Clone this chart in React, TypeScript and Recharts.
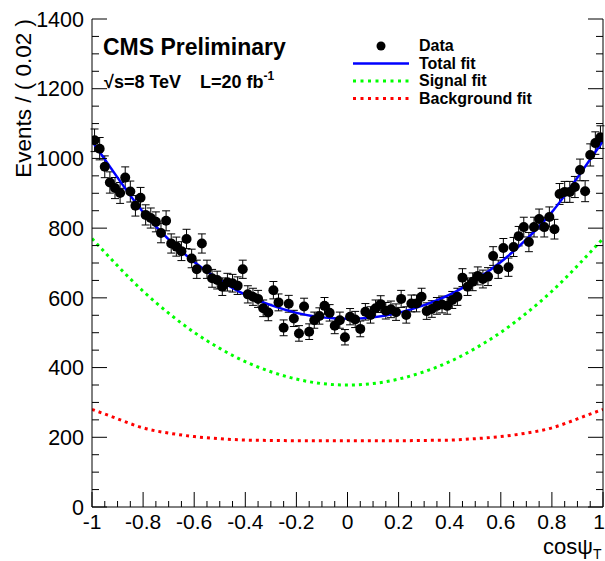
import React from "react"
import { ComposedChart, Scatter, Line, XAxis, YAxis, ErrorBar } from "recharts"

const FONT = "'Liberation Sans', Arial, Helvetica, sans-serif"

// events per bin, 100 bins of width 0.02 in cos(psi_T) from -1 to 1
const counts = [
  1052, 1028, 976, 931, 915, 901, 945, 905, 864, 887,
  838, 829, 818, 786, 821, 756, 747, 734, 769, 713,
  682, 756, 682, 656, 651, 632, 645, 642, 635, 682,
  610, 603, 597, 570, 558, 622, 587, 514, 583, 541,
  498, 575, 503, 536, 548, 577, 557, 520, 536, 487,
  546, 538, 511, 560, 551, 570, 582, 563, 567, 559,
  597, 551, 584, 584, 603, 562, 568, 577, 581, 577,
  594, 603, 658, 632, 646, 663, 654, 661, 720, 682,
  743, 688, 746, 777, 803, 760, 803, 826, 803, 832,
  797, 898, 904, 904, 918, 967, 906, 1010, 1044, 1061,
]

// fit curves sampled every 0.1
const fitX = [-1, -0.9, -0.8, -0.7, -0.6, -0.5, -0.4, -0.3, -0.2, -0.1, 0, 0.1, 0.2, 0.3, 0.4, 0.5, 0.6, 0.7, 0.8, 0.9, 1]
const totalFit = [1050, 945, 846, 768, 703, 651, 609, 579, 557, 544, 540, 544, 557, 579, 609, 651, 703, 768, 846, 945, 1050]
const signalFit = [770, 692, 619, 556, 501, 455, 417, 388, 367, 354, 350, 354, 367, 388, 417, 455, 501, 556, 619, 692, 770]
const backgroundFit = [280, 253, 227, 212, 202, 196, 192, 191, 190, 190, 190, 190, 190, 191, 192, 196, 202, 212, 227, 253, 280]

const legendItems = [
  { label: "Data", kind: "dot", color: "#000000" },
  { label: "Total fit", kind: "solid", color: "#0000ff" },
  { label: "Signal fit", kind: "dotted", color: "#00ff00" },
  { label: "Background fit", kind: "dotted", color: "#ff0000" },
]

const points = counts.map((c, i) => ({
  x: -1 + 0.02 * (i + 0.5),
  count: c,
  err: Math.sqrt(c),
}))

const fitRows = fitX.map((x, i) => ({
  x,
  total: totalFit[i],
  signal: signalFit[i],
  background: backgroundFit[i],
}))

const xTicks = Array.from({ length: 41 }, (_, i) => Math.round((-1 + i * 0.05) * 100) / 100)
const yTicks = Array.from({ length: 29 }, (_, i) => i * 50)

const isMajorX = (v: number) => Math.abs(v * 5 - Math.round(v * 5)) < 1e-6
const isMajorY = (v: number) => v % 200 === 0

function BottomTick({ x, y, payload }: any) {
  const major = isMajorX(payload.value)
  // the last label sits on the frame edge, nudge it inside the page
  const lx = payload.value >= 1 ? x - 4 : x
  return (
    <g>
      <line x1={x} x2={x} y1={y} y2={y - (major ? 15 : 6)} stroke="#000" />
      {major && (
        <text x={lx} y={y + 22} textAnchor="middle" fontSize={21} fontFamily={FONT} fill="#000">
          {String(Math.round(payload.value * 10) / 10)}
        </text>
      )}
    </g>
  )
}

function TopTick({ x, y, payload }: any) {
  const major = isMajorX(payload.value)
  return <line x1={x} x2={x} y1={y} y2={y + (major ? 15 : 6)} stroke="#000" />
}

function LeftTick({ x, y, payload }: any) {
  const major = isMajorY(payload.value)
  return (
    <g>
      <line x1={x} x2={x + (major ? 15 : 7)} y1={y} y2={y} stroke="#000" />
      {major && (
        <text x={x - 8} y={y} dy="0.36em" textAnchor="end" fontSize={21.5} fontFamily={FONT} fill="#000">
          {payload.value}
        </text>
      )}
    </g>
  )
}

function RightTick({ x, y, payload }: any) {
  const major = isMajorY(payload.value)
  return <line x1={x} x2={x - (major ? 15 : 7)} y1={y} y2={y} stroke="#000" />
}

const DataDot = (props: any) => <circle cx={props.cx} cy={props.cy} r={5} fill="#000" />

export default function App() {
  return (
    <div style={{ position: "absolute", left: 0, top: 0, width: 605, height: 561, background: "#fff" }}>
      <ComposedChart width={605} height={561} margin={{ top: 19, right: 1, bottom: 0, left: 0 }}>
        <XAxis
          xAxisId="main"
          dataKey="x"
          type="number"
          domain={[-1, 1]}
          ticks={xTicks}
          interval={0}
          height={54}
          tickLine={false}
          tickSize={0}
          tickMargin={0}
          tick={<BottomTick />}
          axisLine={{ stroke: "#000" }}
          allowDataOverflow
        />
        <XAxis
          xAxisId="top"
          orientation="top"
          dataKey="x"
          type="number"
          domain={[-1, 1]}
          ticks={xTicks}
          interval={0}
          height={0}
          tickLine={false}
          tickSize={0}
          tickMargin={0}
          tick={<TopTick />}
          axisLine={{ stroke: "#000" }}
          allowDataOverflow
        />
        <YAxis
          yAxisId="main"
          type="number"
          domain={[0, 1400]}
          ticks={yTicks}
          interval={0}
          width={92}
          tickLine={false}
          tickSize={0}
          tickMargin={0}
          tick={<LeftTick />}
          axisLine={{ stroke: "#000" }}
          allowDataOverflow
        />
        <YAxis
          yAxisId="right"
          orientation="right"
          type="number"
          domain={[0, 1400]}
          ticks={yTicks}
          interval={0}
          width={1}
          tickLine={false}
          tickSize={0}
          tickMargin={0}
          tick={<RightTick />}
          axisLine={{ stroke: "#000" }}
          allowDataOverflow
        />
        <Scatter
          xAxisId="main"
          yAxisId="main"
          data={points}
          dataKey="count"
          shape={DataDot}
          isAnimationActive={false}
        >
          <ErrorBar dataKey="err" direction="y" width={4} stroke="#000" strokeWidth={1} />
        </Scatter>
        <Line
          xAxisId="main"
          yAxisId="main"
          data={fitRows}
          dataKey="background"
          type="natural"
          stroke="#ff0000"
          strokeWidth={3}
          strokeDasharray="3 4"
          dot={false}
          activeDot={false}
          isAnimationActive={false}
        />
        <Line
          xAxisId="main"
          yAxisId="main"
          data={fitRows}
          dataKey="signal"
          type="natural"
          stroke="#00ff00"
          strokeWidth={3}
          strokeDasharray="3 4"
          dot={false}
          activeDot={false}
          isAnimationActive={false}
        />
        <Line
          xAxisId="main"
          yAxisId="main"
          data={fitRows}
          dataKey="total"
          type="natural"
          stroke="#0000ff"
          strokeWidth={2.5}
          dot={false}
          activeDot={false}
          isAnimationActive={false}
        />
      </ComposedChart>

      {/* titles, legend and labels on top of the plot */}
      <svg
        width={605}
        height={561}
        style={{ position: "absolute", left: 0, top: 0, pointerEvents: "none" }}
        fontFamily={FONT}
      >
        <text x={31} y={19} transform="rotate(-90 31 19)" textAnchor="end" fontSize={22.5} fill="#000">
          Events / ( 0.02 )
        </text>
        <text x={543} y={554} fontSize={22} fill="#000">
          cosψ<tspan fontSize={14} dy={5}>T</tspan>
        </text>

        <text x={103} y={55} fontSize={23} fontWeight="bold" fill="#000">
          CMS Preliminary
        </text>
        <text x={104} y={88} fontSize={18} fontWeight="bold" fill="#000">
          √s=8 TeV
        </text>
        <text x={200} y={88} fontSize={18} fontWeight="bold" fill="#000">
          L=20 fb<tspan fontSize={12} dy={-8}>-1</tspan>
        </text>

        {legendItems.map((item, i) => {
          const base = 51 + i * 17.5
          const mid = base - 5
          return (
            <g key={item.label}>
              {item.kind === "dot" && <circle cx={381} cy={mid} r={4.5} fill={item.color} />}
              {item.kind === "solid" && (
                <line x1={353} x2={409} y1={mid} y2={mid} stroke={item.color} strokeWidth={2.5} />
              )}
              {item.kind === "dotted" && (
                <line
                  x1={353}
                  x2={409}
                  y1={mid}
                  y2={mid}
                  stroke={item.color}
                  strokeWidth={3}
                  strokeDasharray="3 4.5"
                />
              )}
              <text x={419} y={base} fontSize={16} fontWeight="bold" fill="#000">
                {item.label}
              </text>
            </g>
          )
        })}
      </svg>
    </div>
  )
}
